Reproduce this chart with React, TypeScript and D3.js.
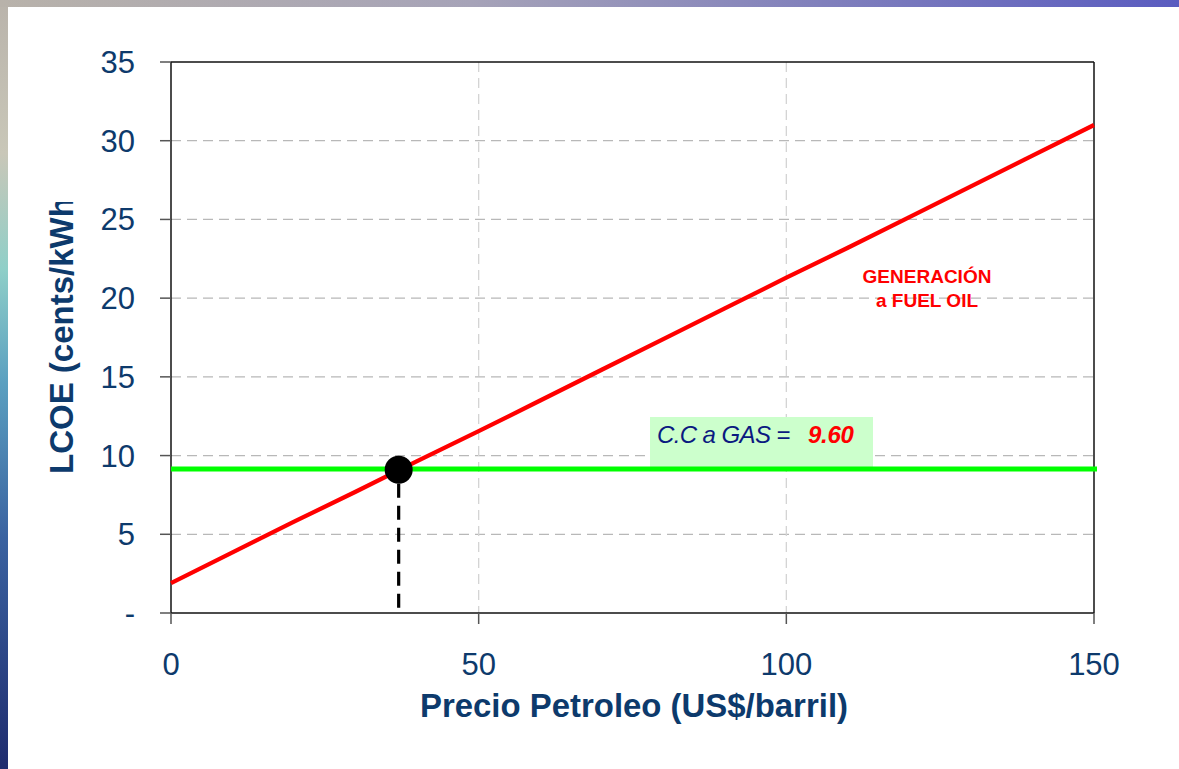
import React from "react";
import * as d3 from "d3";

const W = 1179;
const H = 769;

// Data
const oilPrice = [0, 10, 20, 30, 40, 50, 60, 70, 80, 90, 100, 110, 120, 130, 140, 150];
const fuelOilLCOE = [1.9, 3.85, 5.8, 7.7, 9.65, 11.55, 13.5, 15.45, 17.4, 19.35, 21.3, 23.2, 25.15, 27.1, 29.05, 31.0];
const gasLCOE = 9.15;
const gasLabelValue = "9.60";
const breakEven = { x: 37, y: 9.1 };
const yTicks = [0, 5, 10, 15, 20, 25, 30, 35];
const xTicks = [0, 50, 100, 150];

const FONT = "'Liberation Sans', Arial, Helvetica, sans-serif";
const NAVY = "#0d3a6c";

export default function App() {
  const x = d3.scaleLinear().domain([0, 150]).range([171, 1094]);
  const y = d3.scaleLinear().domain([0, 35]).range([613, 62]);

  const line = d3
    .line<number>()
    .x((_, i) => x(oilPrice[i]))
    .y((d) => y(d));

  const x0 = x(0);
  const x1 = x(150);
  const yTop = y(35);
  const yBot = y(0);

  return (
    <svg
      width={W}
      height={H}
      style={{ position: "absolute", left: 0, top: 0, display: "block" }}
      fontFamily={FONT}
    >
      <defs>
        <linearGradient id="leftStrip" x1="0" y1="0" x2="0" y2="1">
          <stop offset="0" stopColor="#b9b3ab" />
          <stop offset="0.2" stopColor="#c9c7b8" />
          <stop offset="0.35" stopColor="#8fcfc8" />
          <stop offset="0.5" stopColor="#5a9fc0" />
          <stop offset="0.7" stopColor="#3a62a0" />
          <stop offset="1" stopColor="#1f2c6e" />
        </linearGradient>
        <linearGradient id="topStrip" x1="0" y1="0" x2="1" y2="0">
          <stop offset="0" stopColor="#b8b2aa" />
          <stop offset="0.4" stopColor="#a6a3b8" />
          <stop offset="1" stopColor="#5a5cc0" />
        </linearGradient>
        <clipPath id="ylabClip">
          <rect x={0} y={202} width={140} height={400} />
        </clipPath>
      </defs>

      {/* background */}
      <rect x={0} y={0} width={W} height={H} fill="#ffffff" />
      <rect x={0} y={0} width={8} height={H} fill="url(#leftStrip)" />
      <rect x={0} y={0} width={W} height={7} fill="url(#topStrip)" />

      {/* gridlines */}
      {yTicks
        .filter((t) => t !== 0 && t !== 35)
        .map((t) => (
          <line
            key={"gy" + t}
            x1={x0}
            x2={x1}
            y1={y(t)}
            y2={y(t)}
            stroke="#b8b8b8"
            strokeWidth={1.3}
            strokeDasharray="10,6"
          />
        ))}
      {xTicks
        .filter((t) => t !== 0 && t !== 150)
        .map((t) => (
          <line
            key={"gx" + t}
            x1={x(t)}
            x2={x(t)}
            y1={yTop}
            y2={yBot}
            stroke="#d4d4d4"
            strokeWidth={1.3}
            strokeDasharray="10,6"
          />
        ))}

      {/* frame */}
      <line x1={x0} x2={x1} y1={yTop} y2={yTop} stroke="#111" strokeWidth={1.5} />
      <line x1={x1} x2={x1} y1={yTop} y2={yBot} stroke="#111" strokeWidth={1.5} />
      <line x1={x0} x2={x1} y1={yBot} y2={yBot} stroke="#111" strokeWidth={1.5} />
      <line x1={x0} x2={x0} y1={yTop} y2={yBot} stroke="#111" strokeWidth={1.5} />

      {/* y ticks */}
      {yTicks.map((t) => (
        <g key={"yt" + t}>
          <line x1={160} x2={x0} y1={y(t)} y2={y(t)} stroke="#555" strokeWidth={1.5} />
          <text
            x={135}
            y={y(t) + 11}
            textAnchor="end"
            fontSize={31}
            fill={NAVY}
          >
            {t === 0 ? "-" : String(t)}
          </text>
        </g>
      ))}

      {/* x ticks */}
      {xTicks.map((t) => (
        <g key={"xt" + t}>
          <line x1={x(t)} x2={x(t)} y1={yBot} y2={yBot + 11} stroke="#555" strokeWidth={1.5} />
          <text x={x(t)} y={675} textAnchor="middle" fontSize={31} fill={NAVY}>
            {String(t)}
          </text>
        </g>
      ))}

      {/* axis titles */}
      <text
        x={420}
        y={717}
        fontSize={33}
        fontWeight="bold"
        fill={NAVY}
        textLength={428}
        lengthAdjust="spacingAndGlyphs"
      >
        Precio Petroleo (US$/barril)
      </text>
      <g clipPath="url(#ylabClip)">
        <text
          transform="translate(73,474) rotate(-90)"
          fontSize={33}
          fontWeight="bold"
          fill={NAVY}
        >
          LCOE (cents/kWh)
        </text>
      </g>

      {/* gas label box */}
      <rect x={650} y={417} width={223} height={50} fill="#ccffcc" />
      <text x={657} y={443} fontSize={24} fontStyle="italic" fill="#0a1a80" letterSpacing={-0.6}>
        C.C a GAS ={" "}
        <tspan x={808} fill="#ff0000" fontWeight="bold" letterSpacing={-0.3}>
          {gasLabelValue}
        </tspan>
      </text>

      {/* gas line */}
      <line
        x1={x0}
        x2={x1 + 3}
        y1={y(gasLCOE)}
        y2={y(gasLCOE)}
        stroke="#00ff00"
        strokeWidth={5}
      />

      {/* fuel oil line */}
      <path
        d={line(fuelOilLCOE) || ""}
        fill="none"
        stroke="#ff0000"
        strokeWidth={4.3}
        strokeLinejoin="round"
      />

      {/* fuel oil label */}
      <text x={927} y={283} textAnchor="middle" fontSize={19} fontWeight="bold" fill="#ff0000">
        GENERACIÓN
      </text>
      <text x={927} y={307} textAnchor="middle" fontSize={19} fontWeight="bold" fill="#ff0000">
        a FUEL OIL
      </text>

      {/* break-even marker */}
      <line
        x1={x(breakEven.x)}
        x2={x(breakEven.x)}
        y1={y(breakEven.y) + 14}
        y2={yBot}
        stroke="#000"
        strokeWidth={3.2}
        strokeDasharray="14,8"
      />
      <circle cx={x(breakEven.x)} cy={y(breakEven.y)} r={14} fill="#000" />
    </svg>
  );
}
